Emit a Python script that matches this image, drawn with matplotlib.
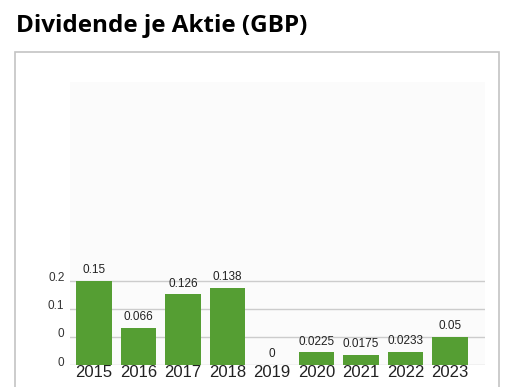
import matplotlib.pyplot as plt
from matplotlib.patches import Rectangle
from matplotlib.transforms import ScaledTranslation

years = ['2015', '2016', '2017', '2018', '2019', '2020', '2021', '2022', '2023']
dividends = [0.15, 0.066, 0.126, 0.138, 0, 0.0225, 0.0175, 0.0233, 0.05]
value_labels = ['0.15', '0.066', '0.126', '0.138', '0', '0.0225', '0.0175', '0.0233', '0.05']
ytick_pos = [0, 0.05, 0.1, 0.15]
ytick_labels = ['0', '0', '0.1', '0.2']

W, H = 505, 387
fig = plt.figure(figsize=(W / 100, H / 100), dpi=100)
fig.patch.set_facecolor('white')

def px(x0, y0, x1, y1):
    # pixel box (top-left origin) -> figure fraction rect
    return [x0 / W, 1 - y1 / H, (x1 - x0) / W, (y1 - y0) / H]

# outer frame around the chart
fig.patches.append(Rectangle((15 / W, -0.05), (499 - 15) / W, 1.05 - 52 / H,
                             transform=fig.transFigure, fill=False,
                             edgecolor='#c4c4c4', linewidth=1.2))

fig.text(16 / W, 1 - 32 / H, 'Dividende je Aktie (GBP)', fontsize=17.5,
         fontweight='bold', family='Open Sans', color='black', va='baseline')

ax = fig.add_axes(px(70, 82, 485, 365))
ax.set_facecolor('#fbfbfb')
x = list(range(len(years)))
bars = ax.bar(x, dividends, width=0.8, color='#559e33', zorder=3)

for b, lab in zip(bars, value_labels):
    ax.annotate(lab, (b.get_x() + b.get_width() / 2, b.get_height()),
                xytext=(0, 3.5), textcoords='offset points', ha='center', va='bottom',
                fontsize=8.5, family='Liberation Sans', color='#222222')

ax.set_xlim(-0.54, 8.79)
ax.set_ylim(0, 0.505)
ax.set_xticks(x)
ax.set_xticklabels(years, fontsize=12, family='Liberation Sans', color='#222222')
ax.set_yticks(ytick_pos)
ax.set_yticklabels(ytick_labels, fontsize=8.5, family='Liberation Sans', color='#333333')
ax.tick_params(axis='both', length=0)
ax.tick_params(axis='x', pad=0)
ax.tick_params(axis='y', pad=4)
for lab in ax.get_yticklabels():
    lab.set_transform(lab.get_transform() + ScaledTranslation(0, 4 / 100, fig.dpi_scale_trans))
ax.grid(axis='y', color='#cccccc', linewidth=1, zorder=0)
for s in ax.spines.values():
    s.set_visible(False)

fig.savefig('out.png', dpi=100)
